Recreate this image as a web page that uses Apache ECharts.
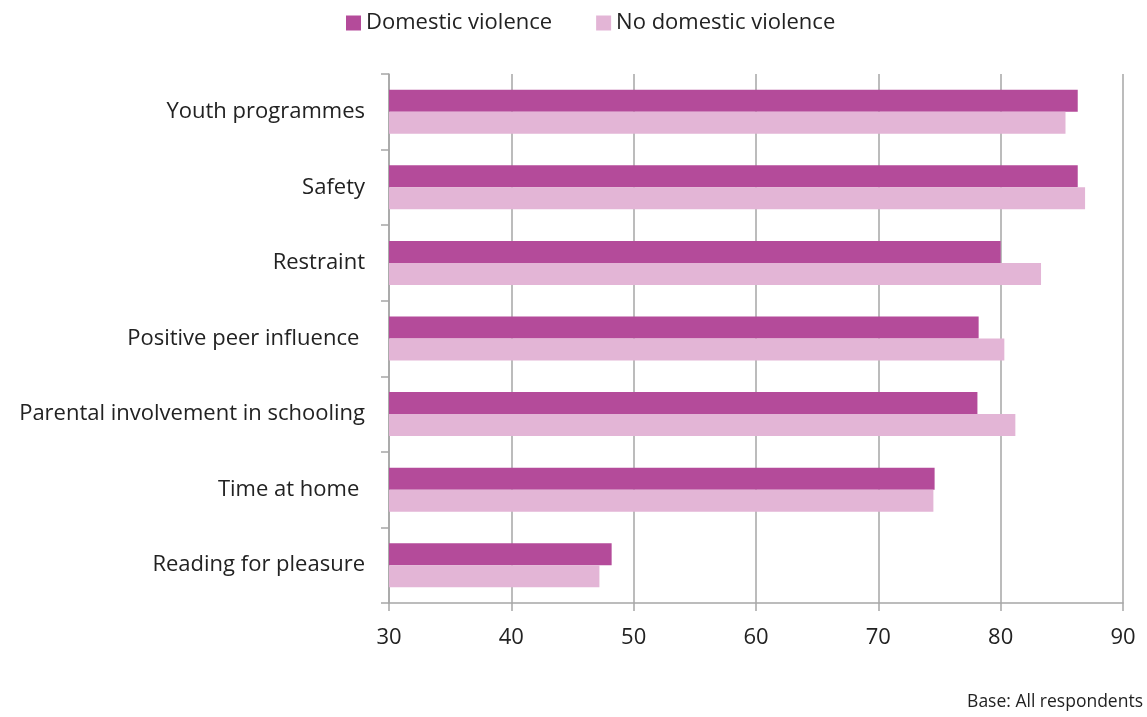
<!DOCTYPE html>
<html><head><meta charset="utf-8">
<script src="https://cdn.jsdelivr.net/npm/echarts@6/dist/echarts.min.js"></script>
<style>html,body{margin:0;padding:0;background:#fff}#c{width:1147px;height:717px}</style>
</head><body><div id="c"></div>
<script>
const categories = ["Youth programmes","Safety","Restraint","Positive peer influence ","Parental involvement in schooling","Time at home ","Reading for pleasure"];
const domesticViolence = [86.3, 86.3, 80.0, 78.2, 78.1, 74.6, 48.2];
const noDomesticViolence = [85.3, 86.9, 83.3, 80.3, 81.2, 74.5, 47.2];
const seriesNames = ["Domestic violence","No domestic violence"];
const xTicks = {min:30, max:90, interval:10};

const FONT = "'Open Sans', 'Noto Sans', sans-serif";
const chart = echarts.init(document.getElementById('c'));
chart.setOption({
  animation:false,
  legend:{top:7, left:341, itemWidth:15, itemHeight:15, itemGap:44, icon:'rect',
    textStyle:{fontFamily:FONT, fontSize:22, color:'#222'}, data:seriesNames},
  grid:{left:389, right:24, top:74, bottom:114, containLabel:false},
  xAxis:{type:'value', min:xTicks.min, max:xTicks.max, interval:xTicks.interval,
    axisLine:{show:true, lineStyle:{color:'#a6a6a6', width:1.5}},
    axisTick:{show:true, length:8, lineStyle:{color:'#a6a6a6', width:1.5}},
    splitLine:{show:true, lineStyle:{color:'#a6a6a6', width:1.5}},
    axisLabel:{fontFamily:FONT, fontSize:22, color:'#222', margin:24}},
  yAxis:{type:'category', data:categories, inverse:true,
    axisLine:{show:true, lineStyle:{color:'#a6a6a6', width:1.5}},
    axisTick:{show:true, length:8, lineStyle:{color:'#a6a6a6', width:1.5}},
    axisLabel:{fontFamily:FONT, fontSize:22, color:'#222', margin:24}},
  series:[
    {name:seriesNames[0], type:'bar', data:domesticViolence, barWidth:22, barGap:'0%',
     itemStyle:{color:'#b44b9a'}},
    {name:seriesNames[1], type:'bar', data:noDomesticViolence, barWidth:22, barGap:'0%',
     itemStyle:{color:'#e3b5d6'}}
  ],
  graphic:[{type:'text', right:4, top:693, style:{text:'Base: All respondents', fontFamily:FONT, fontSize:17.5, fill:'#222'}}]
});
</script></body></html>
